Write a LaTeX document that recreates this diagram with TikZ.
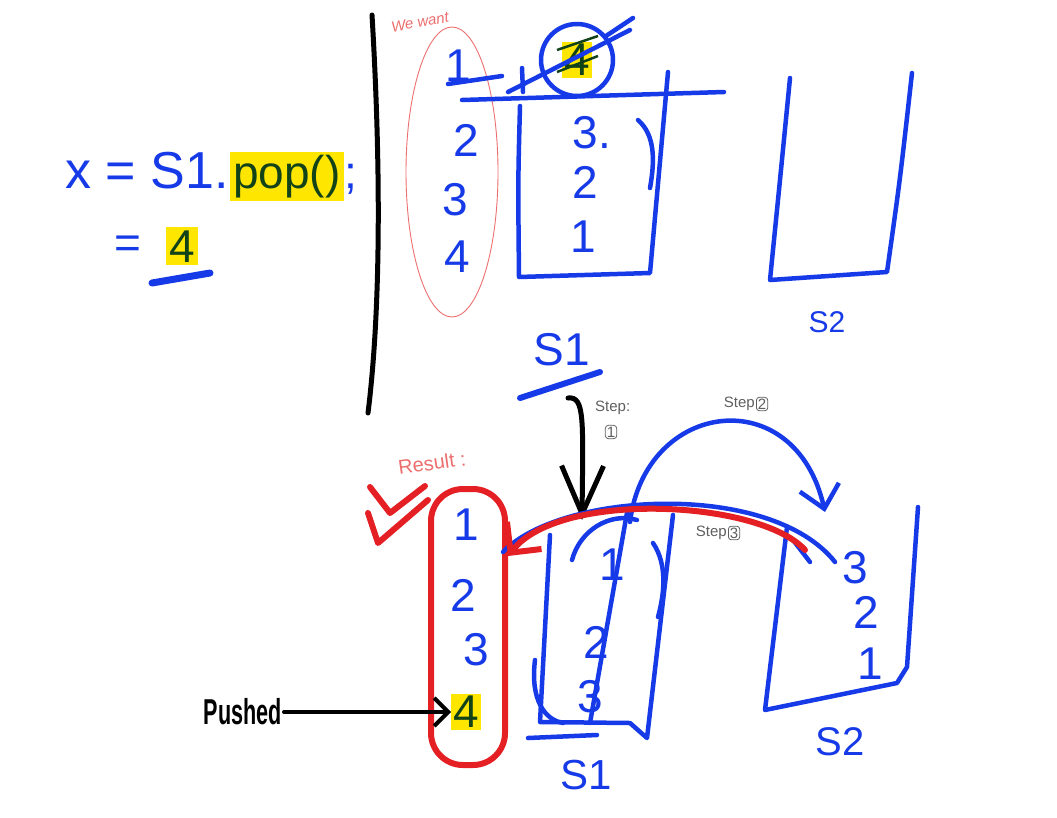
\documentclass[tikz,border=0pt]{standalone}
\usepackage{fontspec}
\setmainfont{Liberation Sans}
\usepackage{tikz}
\usetikzlibrary{positioning}
\usetikzlibrary{arrows.meta}
\usepackage{xcolor}

\definecolor{penblue}{RGB}{22,58,232}
\definecolor{penred}{RGB}{228,32,36}
\definecolor{hilite}{RGB}{255,230,0}
\definecolor{inkgreen}{RGB}{18,66,24}
\definecolor{pinkred}{RGB}{236,110,110}
\definecolor{pengrey}{RGB}{95,95,95}

\begin{document}
\begin{tikzpicture}[x=1pt,y=-1pt,
big/.style={font=\fontsize{46}{46}\selectfont,text=penblue,inner sep=1pt},
hl/.style={fill=hilite,text=inkgreen},
pen/.style={draw=penblue,line width=4.5pt,line cap=round,line join=round},
redpen/.style={draw=penred,line width=6pt,line cap=round,line join=round},
note/.style={font=\fontsize{15}{15}\selectfont,text=pengrey,inner sep=1pt},
boxed/.style={draw=pengrey,rounded corners=3pt,inner sep=1.5pt,line width=0.8pt}]
\useasboundingbox (0,0) rectangle (1057,817);

% x = S1.pop()
\node[big,font=\fontsize{52}{52}\selectfont,anchor=base east] (lhs) at (230,188) {x = S1.};
\node[big,hl,anchor=base west,inner sep=3pt] (pop) at (lhs.base east) {pop()};
\node[big,anchor=base west] (semi) at (pop.base east) {;};
\node[big,anchor=base] (eqsign) at (128,258) {=};
\node[big,hl,anchor=base,inner sep=3pt] (res4) at (182,262) {4};
\draw[pen,line width=7pt] (152,283) -- (210,273);

% divider
\draw[line width=5pt,line cap=round] (372,15) .. controls (380,150) and (382,300) .. (368,413);

% what we want
\node[font=\fontsize{15}{15}\selectfont\itshape,text=pinkred,rotate=10] (want) at (420,22) {We want};
\draw[pinkred,line width=0.9pt] (452,172) ellipse (46 and 145);
\node[big] (w1) at (458,66) {1};
\node[big] (w2) at (466,140) {2};
\node[big] (w3) at (455,200) {3};
\node[big] (w4) at (457,257) {4};
\draw[pen] (448,84) -- (502,76);

% top s1
\draw[pen] (462,100) -- (724,92);
\draw[pen] (522,68) -- (523,92);
\draw[pen] (520,106) .. controls (518,180) .. (519,277) -- (650,273) -- (668,72);
\draw[pen] (638,120) .. controls (655,135) and (655,160) .. (650,188);
\node[big,hl,inner sep=2pt] (top4) at (577,60) {4};
\draw[inkgreen,line width=2.5pt] (557,72) -- (598,56) (557,50) -- (598,36);
\draw[pen] (top4) circle (36);
\draw[pen] (508,92) -- (630,30) (606,36) -- (633,18);
\node[big] (a3) at (592,133) {3.};
\node[big] (a2) at (585,182) {2};
\node[big] (a1) at (583,237) {1};
\node[big] (s1lab) at (562,350) {S1};
\draw[pen,line width=6pt] (520,398) -- (600,372);

% top s2
\draw[pen] (790,78) .. controls (780,180) .. (770,280) -- (887,272) .. controls (900,180) .. (912,73);
\node[big,font=\fontsize{30}{30}\selectfont] (s2lab) at (827,322) {S2};

% step 1
\node[note,anchor=west] (step1) at (594,408) {Step:};
\node[note,boxed] (step1n) at (611,432) {1};
\coordinate (st1) at (568,398);
\coordinate (st1end) at (582,520);
\draw[line width=5pt,line cap=round,-{Straight Barb[length=48pt,width=42pt]}] (st1) .. controls (585,396) and (583,420) .. (st1end);

% result
\node[font=\fontsize{20}{20}\selectfont,text=pinkred,rotate=8] (result) at (432,463) {Result :};
\draw[redpen] (370,487) -- (390,513) -- (425,486);
\draw[redpen] (368,513) -- (378,543) -- (428,500);
\node[draw=penred,line width=6pt,rounded corners=32pt,minimum width=74pt,minimum height=276pt] (reslist) at (468,627) {};
\node[big] (r1) at (466,525) {1};
\node[big] (r2) at (463,595) {2};
\node[big] (r3) at (476,650) {3};
\node[big,hl,inner sep=2pt] (r4) at (466,712) {4};

% pushed
\node[font=\fontsize{36}{36}\selectfont\bfseries,xscale=0.6,anchor=east] (pushed) at (284,712) {Pushed};
\draw[line width=4pt,line cap=round,-{Straight Barb[length=14pt,width=28pt]}] (pushed.east) -- (pushed.east -| r4.west);

% bottom s1
\draw[pen] (550,535) -- (540,722) -- (630,723) -- (647,738) -- (673,515);
\draw[pen] (535,660) .. controls (530,700) and (545,720) .. (563,723);
\draw[pen] (528,738) -- (597,735);
\draw[pen] (572,560) .. controls (580,530) and (610,512) .. (637,520);
\draw[pen] (653,543) .. controls (668,565) and (664,595) .. (658,617);
\node[big] (b1) at (612,565) {1};
\node[big] (b2) at (596,642) {2};
\node[big] (b3) at (590,697) {3};
\draw[pen] (628,507) -- (590,723);
\node[big,font=\fontsize{42}{42}\selectfont] (b1lab) at (586,775) {S1};

% bottom s2
\draw[pen] (787,527) -- (765,710) -- (897,683) -- (907,667) -- (918,507);
\node[big] (c3) at (855,568) {3};
\node[big] (c2) at (866,612) {2};
\node[big] (c1) at (870,664) {1};
\node[big,font=\fontsize{40}{40}\selectfont] (c1lab) at (840,742) {S2};

% lid
\draw[pen] (503,552) .. controls (560,492) and (770,480) .. (835,562);
\draw[pen] (793,540) -- (810,562);

% step 2
\node[note,anchor=east] (step2) at (756,404) {Step};
\node[note,boxed,right=0pt of step2] (step2n) {2};
\coordinate (st2a) at (630,522);
\coordinate (st2b) at (825,512);
\draw[pen,-{Straight Barb[length=22pt,width=40pt]}] (st2a) .. controls (645,400) and (795,380) .. (st2b);

% step 3
\node[note,anchor=east] (step3) at (728,533) {Step};
\node[note,boxed,right=0pt of step3] (step3n) {3};
\coordinate (st3a) at (805,550);
\draw[redpen,-{Straight Barb[length=22pt,width=44pt]}] (st3a) .. controls (760,500) and (560,490) .. ([yshift=71pt]reslist.east);
\end{tikzpicture}
\end{document}
